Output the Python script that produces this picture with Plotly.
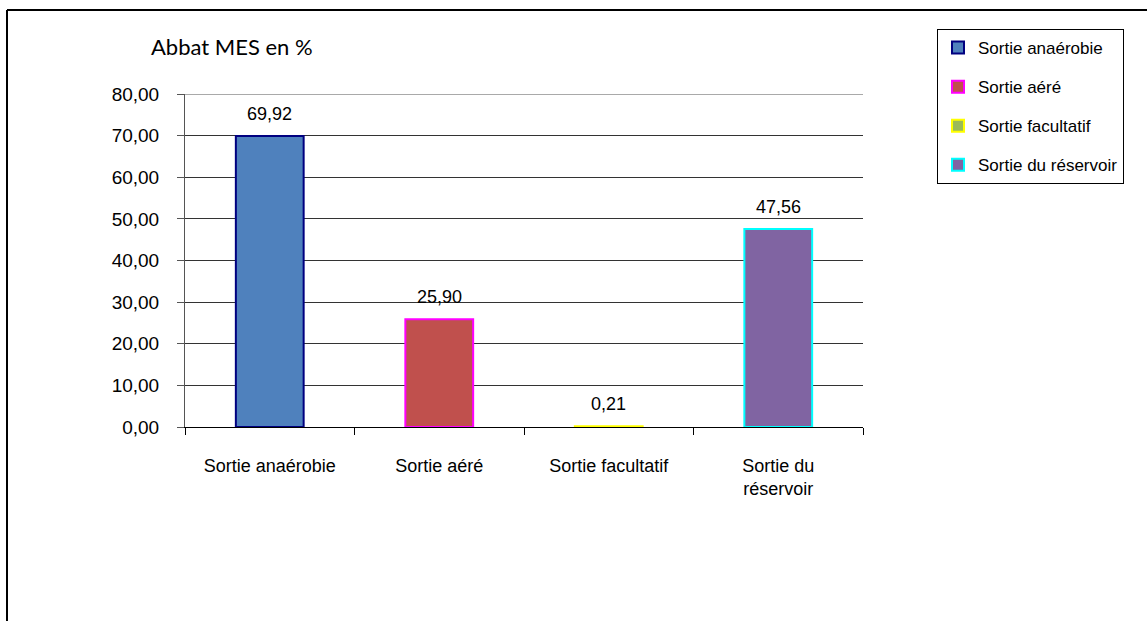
import plotly.graph_objects as go

categories = ["Sortie anaérobie", "Sortie aéré", "Sortie facultatif", "Sortie du réservoir"]
tick_labels = ["Sortie anaérobie", "Sortie aéré", "Sortie facultatif", "Sortie du<br>réservoir"]
values = [69.92, 25.90, 0.21, 47.56]
y_ticks = [0, 10, 20, 30, 40, 50, 60, 70, 80]
fill_colors = ["#4F81BD", "#C0504D", "#9BBB59", "#8064A2"]
edge_colors = ["#000080", "#FF00FF", "#FFFF00", "#00FFFF"]

W, H = 1147, 621
L, R, T, B = 185, 863, 94, 427  # plot area in pixels

fig = go.Figure()
for cat, val, fc, ec in zip(categories, values, fill_colors, edge_colors):
    fig.add_trace(go.Bar(
        x=[cat], y=[val], name=cat, width=0.4,
        marker=dict(color=fc, line=dict(color=ec, width=2)),
        legendgroup=cat,
    ))

# value labels above the bars
value_labels = [dict(
    x=cat, y=val, xref="x", yref="y", text=f"{val:.2f}".replace(".", ","),
    xanchor="center", yanchor="bottom", yshift=10, showarrow=False,
    font=dict(family="Liberation Sans, Arial", size=18, color="#000"),
) for cat, val in zip(categories, values)]

def px_x(p):
    return (p - L) / (R - L)

def px_y(p):
    return (B - p) / (B - T)

fig.update_layout(
    width=W, height=H,
    margin=dict(l=L, r=W - R, t=T, b=H - B, pad=0),
    paper_bgcolor="white", plot_bgcolor="white",
    barmode="overlay",
    separators=", ",
    font=dict(family="Liberation Sans, Arial", size=18, color="#000"),
    showlegend=True,
    legend=dict(
        x=px_x(937), y=px_y(29), xanchor="left", yanchor="top",
        bordercolor="#000", borderwidth=1, bgcolor="white",
        font=dict(family="Liberation Sans, Arial", size=17, color="#000"),
        tracegroupgap=14, itemclick=False, itemwidth=30,
    ),
    xaxis=dict(
        categoryorder="array", categoryarray=categories,
        tickmode="array", tickvals=categories, ticktext=tick_labels,
        tickson="boundaries", ticks="outside", ticklen=7, tickcolor="#000",
        showline=True, linecolor="#000", linewidth=1,
        showgrid=False, ticklabelstandoff=22,
        tickfont=dict(size=18),
    ),
    yaxis=dict(
        range=[0, 80], tickvals=y_ticks, tickformat=".2f",
        ticks="outside", ticklen=7, tickcolor="#555",
        showline=True, linecolor="#555", linewidth=1,
        showgrid=True, gridcolor="#333", gridwidth=1,
        zeroline=False, ticklabelstandoff=14,
        tickfont=dict(size=19),
    ),
    annotations=value_labels + [dict(
        text="Abbat MES en %", xref="paper", yref="paper",
        x=px_x(232), y=px_y(47), xanchor="center", yanchor="middle",
        showarrow=False, font=dict(family="Lato, Open Sans", size=22, color="#000"),
    )],
    shapes=[
        # top gridline at the axis maximum
        dict(type="line", xref="paper", yref="y", x0=0, x1=1,
             y0=y_ticks[-1], y1=y_ticks[-1], line=dict(color="#555", width=1), layer="below"),
        # frame around the chart
        dict(type="line", xref="paper", yref="paper",
             x0=px_x(7), x1=px_x(W + 5), y0=px_y(10), y1=px_y(10),
             line=dict(color="#000", width=2)),
        dict(type="line", xref="paper", yref="paper",
             x0=px_x(7), x1=px_x(7), y0=px_y(10), y1=px_y(H + 5),
             line=dict(color="#000", width=2)),
    ],
)

fig.write_html("out.html")
